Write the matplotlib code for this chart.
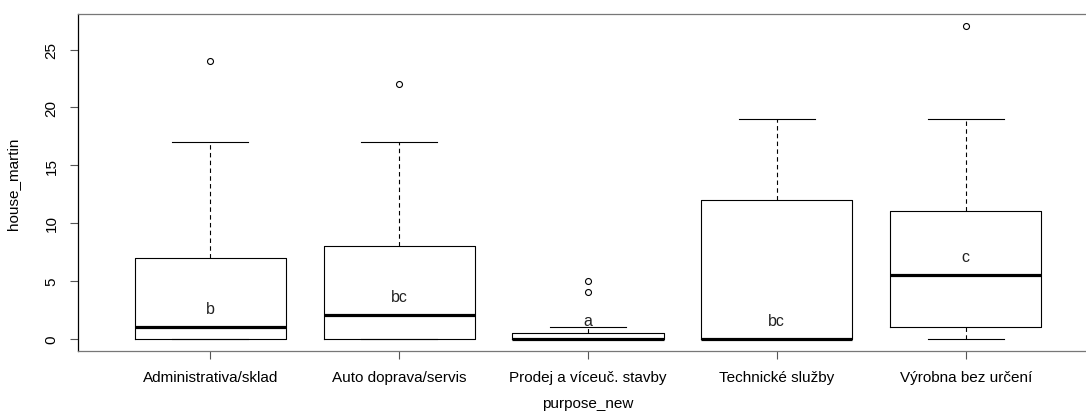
import matplotlib
matplotlib.use("Agg")
import matplotlib.pyplot as plt

plt.rcParams['font.family'] = ['Liberation Sans', 'DejaVu Sans']

categories = ["Administrativa/sklad", "Auto doprava/servis", "Prodej a víceuč. stavby",
              "Technické služby", "Výrobna bez určení"]
q1 = [0, 0, 0, 0, 1]
medians = [1, 2, 0, 0, 5.5]
q3 = [7, 8, 0.5, 12, 11]
whis_lo = [0, 0, 0, 0, 0]
whis_hi = [17, 17, 1, 19, 19]
outliers = [[24], [22], [4, 5], [], [27]]
letters = ["b", "bc", "a", "bc", "c"]
letter_y = [2.6, 3.6, 1.6, 1.6, 7.1]

stats = []
for i, name in enumerate(categories):
    stats.append({"label": name, "q1": q1[i], "med": medians[i], "q3": q3[i],
                  "whislo": whis_lo[i], "whishi": whis_hi[i], "fliers": outliers[i]})

fig = plt.figure(figsize=(10.86, 4.14), dpi=100)
ax = fig.add_axes([0.0718, 0.1498, 1.011 - 0.0718, 0.9638 - 0.1498])

pos = list(range(1, len(categories) + 1))
ax.bxp(stats, positions=pos, widths=0.8, showfliers=True,
       boxprops=dict(color="black", linewidth=0.8),
       whiskerprops=dict(color="black", linewidth=0.8, linestyle=(0, (4, 3))),
       capprops=dict(color="black", linewidth=0.8),
       medianprops=dict(color="black", linewidth=2.3, solid_capstyle="butt"),
       flierprops=dict(marker="o", markersize=4.3, markerfacecolor="none",
                       markeredgecolor="black", markeredgewidth=0.8))

for i, t in enumerate(letters):
    ax.text(pos[i], letter_y[i], t, ha="center", va="center", fontsize=11.5, color="#222222")

ax.set_xlim(0.3, 5.7)
ax.set_ylim(-1.08, 28.08)
ax.set_yticks([0, 5, 10, 15, 20, 25])
ax.set_xticks(pos)
ax.set_xticklabels(categories, fontsize=11)
for lbl in ax.get_yticklabels():
    lbl.set_rotation(90)
    lbl.set_va("center")
    lbl.set_fontsize(11)
ax.tick_params(axis="both", length=6, width=0.8, color="#555555", pad=8)
ax.tick_params(axis="y", pad=8)
for s in ax.spines.values():
    s.set_linewidth(0.9)
ax.spines["left"].set_color("black")
ax.spines["top"].set_color("#777777")
ax.spines["bottom"].set_color("#777777")

ax.set_ylabel("house_martin", fontsize=11, labelpad=18)
ax.set_xlabel("purpose_new", fontsize=11, labelpad=8)

plt.savefig("out.png", dpi=100)
